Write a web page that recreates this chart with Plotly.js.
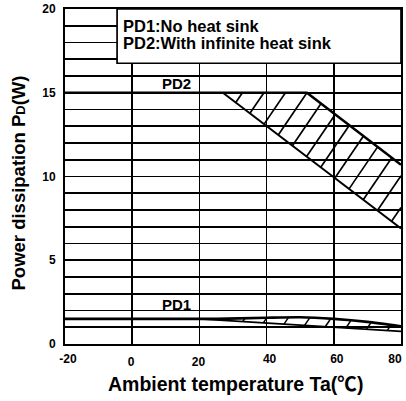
<!DOCTYPE html>
<html>
<head>
<meta charset="utf-8">
<script src="https://cdn.plot.ly/plotly-3.0.1.min.js"></script>
<style>html,body{margin:0;padding:0;background:#fff;}</style>
</head>
<body>
<div id="chart" style="width:406px;height:401px;"></div>
<script>
// ---- data ----
var xTickVals = [-20, 0, 20, 40, 60, 80];
var yTickVals = [0, 5, 10, 15, 20];

// PD2: with infinite heat sink (upper and lower boundary of the hatched band)
var pd2UpperX = [-20, 27, 52, 80];
var pd2UpperY = [15, 15, 15, 10.7];
var pd2LowerX = [27, 80];
var pd2LowerY = [15, 6.9];

// PD1: no heat sink
var pd1UpperX = [-20, 25, 40, 50, 60, 70, 80];
var pd1UpperY = [1.5, 1.5, 1.57, 1.6, 1.5, 1.32, 1.05];
var pd1LowerX = [20, 80];
var pd1LowerY = [1.5, 0.75];

var legendLines = ["PD1:No heat sink", "PD2:With infinite heat sink"];
var curveLabels = ["PD1", "PD2"];
var xTitle = "Ambient temperature Ta(<span style=\"font-family:'Noto Sans CJK SC'\">℃</span>)";
var yTitle = "Power dissipation P<span style=\"font-size:13px\">D</span>(W)";

// ---- helpers ----
function band(ux, uy, lx, ly) {
  var px = [], py = [];
  for (var i = 0; i < ux.length; i++) {
    if (ux[i] >= lx[0]) { px.push(ux[i]); py.push(uy[i]); }
  }
  for (var j = lx.length - 1; j >= 0; j--) { px.push(lx[j]); py.push(ly[j]); }
  return {x: px, y: py};
}
// hatch lines x - k*y = c clipped to polygon
function hatchSegs(poly, k, step, phase) {
  var n = poly.x.length, vals = [];
  for (var i = 0; i < n; i++) vals.push(poly.x[i] - k * poly.y[i]);
  var cmin = Math.min.apply(null, vals), cmax = Math.max.apply(null, vals);
  var sx = [], sy = [];
  var start = phase + Math.ceil((cmin - phase) / step) * step;
  for (var c = start; c <= cmax; c += step) {
    var pts = [];
    for (var e = 0; e < n; e++) {
      var x1 = poly.x[e], y1 = poly.y[e], x2 = poly.x[(e + 1) % n], y2 = poly.y[(e + 1) % n];
      var f1 = x1 - k * y1 - c, f2 = x2 - k * y2 - c;
      if ((f1 <= 0 && f2 > 0) || (f1 > 0 && f2 <= 0)) {
        var t = f1 / (f1 - f2);
        pts.push([x1 + t * (x2 - x1), y1 + t * (y2 - y1)]);
      }
    }
    pts.sort(function (a, b) { return a[1] - b[1]; });
    for (var p = 0; p + 1 < pts.length; p += 2) {
      sx.push(pts[p][0], pts[p + 1][0], null);
      sy.push(pts[p][1], pts[p + 1][1], null);
    }
  }
  return {x: sx, y: sy};
}

var pd2Band = band(pd2UpperX, pd2UpperY, pd2LowerX, pd2LowerY);
var pd1Band = band(pd1UpperX, pd1UpperY, pd1LowerX, pd1LowerY);
var K = 3.39, STEP = 6.4;
var pd2Hatch = hatchSegs(pd2Band, K, STEP, 1.15);
var pd1Hatch = hatchSegs(pd1Band, K, STEP, 2.75);

var traces = [
  {x: pd2Hatch.x, y: pd2Hatch.y, type: 'scatter', mode: 'lines', line: {color: '#000', width: 1.7}, connectgaps: false},
  {x: pd1Hatch.x, y: pd1Hatch.y, type: 'scatter', mode: 'lines', line: {color: '#000', width: 1.5}, connectgaps: false},
  {x: pd2UpperX, y: pd2UpperY, type: 'scatter', mode: 'lines', line: {color: '#000', width: 2.6}},
  {x: pd2LowerX, y: pd2LowerY, type: 'scatter', mode: 'lines', line: {color: '#000', width: 2}, xaxis: 'x3'},
  {x: pd1UpperX, y: pd1UpperY, type: 'scatter', mode: 'lines', line: {color: '#000', width: 2.6, shape: 'spline', smoothing: 0.6}},
  {x: pd1LowerX, y: pd1LowerY, type: 'scatter', mode: 'lines', line: {color: '#000', width: 1.8}, xaxis: 'x2'}
];

var FONT = 'Arial, "Liberation Sans", sans-serif';
var tickFont = {family: FONT, size: 12, weight: 700, color: '#000'};

// tick labels split over overlaid axes so the end labels sit inside the frame as in the reference
var midTicks = [xTickVals[1], xTickVals[2]];
var endTicks = [xTickVals[5]];
var shiftTicks = [xTickVals[0], xTickVals[3], xTickVals[4]];

function overlayAxis(vals, shift) {
  return {
    overlaying: 'x', anchor: 'y', side: 'bottom', range: [-20, 80],
    tickvals: vals, ticktext: vals.map(String),
    showgrid: false, zeroline: false, showline: false,
    ticks: '', ticklabelstandoff: 6, ticklabelshift: shift,
    tickfont: tickFont, automargin: false, fixedrange: true
  };
}

var layout = {
  width: 406, height: 401,
  margin: {l: 65, r: 5, t: 9, b: 57},
  paper_bgcolor: '#fff', plot_bgcolor: '#fff',
  showlegend: false,
  font: {family: FONT, color: '#000', weight: 700},
  xaxis: {
    range: [-20, 80], tickvals: midTicks, ticktext: midTicks.map(String),
    showgrid: true, gridcolor: '#000', gridwidth: 1.7, zeroline: false,
    minor: {tickvals: xTickVals, showgrid: true, gridcolor: '#000', gridwidth: 1.7, ticks: ''},
    showline: true, linecolor: '#000', linewidth: 2, mirror: true,
    ticks: '', ticklabelstandoff: 6, ticklabelshift: -1,
    tickfont: tickFont,
    automargin: false, fixedrange: true
  },
  xaxis2: overlayAxis(endTicks, -6),
  xaxis3: overlayAxis(shiftTicks, 3),
  yaxis: {
    range: [0, 20], tickvals: yTickVals, ticktext: yTickVals.map(String),
    showgrid: true, gridcolor: '#000', gridwidth: 1.7, zeroline: false,
    minor: {dtick: 1, showgrid: true, gridcolor: '#000', gridwidth: 1.7, ticks: ''},
    showline: true, linecolor: '#000', linewidth: 2, mirror: true,
    ticks: '', ticklabelstandoff: 5,
    tickfont: tickFont,
    automargin: false, fixedrange: true
  },
  shapes: [
    {type: 'rect', xref: 'paper', yref: 'paper', x0: 0.155, x1: 1, y0: 0.838, y1: 1,
     fillcolor: '#fff', line: {color: '#000', width: 1.7}, layer: 'above'}
  ],
  annotations: [
    {xref: 'paper', yref: 'paper', x: 0.168, y: 0.948, xanchor: 'left', yanchor: 'middle', showarrow: false,
     text: legendLines[0], font: {family: FONT, size: 16.5, weight: 700, color: '#000'}},
    {xref: 'paper', yref: 'paper', x: 0.168, y: 0.898, xanchor: 'left', yanchor: 'middle', showarrow: false,
     text: legendLines[1], font: {family: FONT, size: 16.5, weight: 700, color: '#000'}},
    {x: 13.2, y: 15.55, xref: 'x', yref: 'y', showarrow: false, text: curveLabels[1],
     font: {family: FONT, size: 15, weight: 700, color: '#000'}},
    {x: 13.2, y: 2.35, xref: 'x', yref: 'y', showarrow: false, text: curveLabels[0],
     font: {family: FONT, size: 15, weight: 700, color: '#000'}},
    {xref: 'paper', yref: 'paper', x: 0.508, y: -0.116, xanchor: 'center', yanchor: 'middle', showarrow: false,
     text: xTitle, font: {family: FONT, size: 19.5, weight: 700, color: '#000'}},
    {xref: 'paper', yref: 'paper', x: -0.137, y: 0.482, xanchor: 'center', yanchor: 'middle', showarrow: false,
     textangle: -90, text: yTitle, font: {family: FONT, size: 18.5, weight: 700, color: '#000'}}
  ]
};

Plotly.newPlot('chart', traces, layout, {staticPlot: true, displayModeBar: false});
</script>
</body>
</html>
